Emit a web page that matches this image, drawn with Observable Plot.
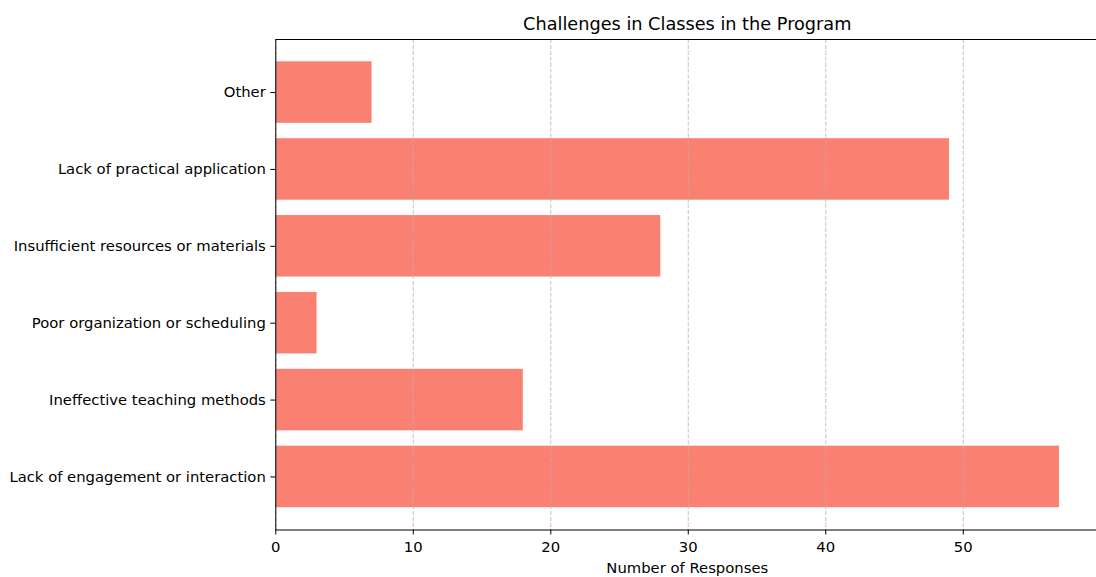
<!DOCTYPE html>
<html>
<head>
<meta charset="utf-8">
<script src="https://cdn.jsdelivr.net/npm/d3@7"></script>
<script src="https://cdn.jsdelivr.net/npm/@observablehq/plot@0.6"></script>
<style>
  html, body { margin: 0; padding: 0; background: #fff; overflow: hidden; }
  #chart { width: 1096px; overflow: hidden; }
  #chart svg { display: block; overflow: hidden; }
</style>
</head>
<body>
<div id="chart"></div>
<script>
const categories = [
  "Lack of engagement or interaction",
  "Ineffective teaching methods",
  "Poor organization or scheduling",
  "Insufficient resources or materials",
  "Lack of practical application",
  "Other"
];
const responses = [57, 18, 3, 28, 49, 7];
const xTicks = [0, 10, 20, 30, 40, 50];
const title = "Challenges in Classes in the Program";
const xLabel = "Number of Responses";

const data = categories.map((c, i) => ({category: c, value: responses[i]}));
const maxV = d3.max(responses);
const font = "'DejaVu Sans', sans-serif";

const chart = Plot.plot({
  width: 1096,
  height: 577,
  marginLeft: 275.3,
  marginRight: -2.2,
  marginTop: 39,
  marginBottom: 47.5,
  style: {fontFamily: font, background: "#fff", color: "#000"},
  x: {domain: [0, maxV * 1.05], ticks: xTicks},
  y: {domain: categories.slice().reverse(), paddingInner: 0.2, paddingOuter: 0.29, align: 0.5, round: false},
  marks: [
    Plot.barX(data, {x: "value", y: "category", fill: "#FA8072"}),
    Plot.gridX(xTicks, {stroke: "#b0b0b0", strokeOpacity: 0.7, strokeWidth: 1.1, strokeDasharray: "4.1,1.8"}),
    Plot.frame({stroke: "#000", strokeWidth: 1}),
    Plot.axisX(xTicks, {tickSize: 5, tickPadding: 6, fontSize: 14.8, label: null, tickFormat: d => String(d), stroke: "#000"}),
    Plot.axisY({tickSize: 5, tickPadding: 5, fontSize: 14.8, label: null, stroke: "#000"}),
    Plot.text([title], {x: maxV * 1.05 / 2, frameAnchor: "top", lineAnchor: "bottom", dy: -9.5, fontSize: 17.7, fill: "#000"}),
    Plot.text([xLabel], {x: maxV * 1.05 / 2, frameAnchor: "bottom", lineAnchor: "bottom", dy: 43, fontSize: 14.8, fill: "#000"})
  ]
});
document.getElementById("chart").appendChild(chart);
</script>
</body>
</html>
